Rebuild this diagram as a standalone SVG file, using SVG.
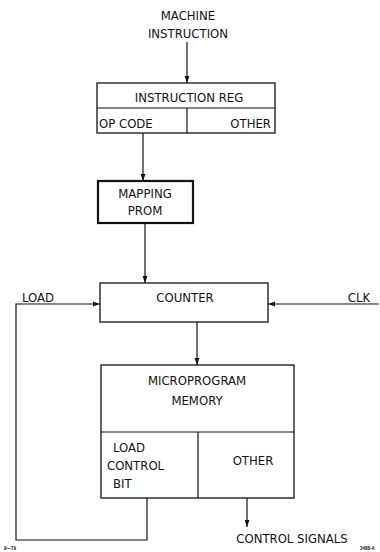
<svg xmlns="http://www.w3.org/2000/svg" width="380" height="552" viewBox="0 0 380 552">
<defs>
<marker id="ah" viewBox="0 0 10 10" refX="10" refY="5" markerWidth="7" markerHeight="8" markerUnits="userSpaceOnUse" orient="auto">
<path d="M0,1.5 L10,5 L0,8.5 z" fill="#111"/>
</marker>
<style>
.box{fill:#fff;stroke:#111;stroke-width:1.3}
.thick{stroke-width:2.2}
.ln{fill:none;stroke:#111;stroke-width:1.2}
.t{font-family:"DejaVu Sans Condensed","Liberation Sans",sans-serif;font-size:13px;fill:#111;text-anchor:middle}
.s{font-family:"Liberation Sans",sans-serif;font-size:4.5px;font-weight:bold;fill:#111}
</style>
</defs>
<rect width="380" height="552" fill="#fff"/>
<g id="connectors">
<line class="ln" x1="187" y1="42" x2="187" y2="83" marker-end="url(#ah)"/>
<line class="ln" x1="143" y1="133" x2="143" y2="181" marker-end="url(#ah)"/>
<line class="ln" x1="145" y1="223" x2="145" y2="283" marker-end="url(#ah)"/>
<polyline class="ln" points="147,498 147,540 16,540 16,304 100,304" marker-end="url(#ah)"/>
<line class="ln" x1="379" y1="304" x2="268" y2="304" marker-end="url(#ah)"/>
<line class="ln" x1="197" y1="322" x2="197" y2="365" marker-end="url(#ah)"/>
<line class="ln" x1="247" y1="498" x2="247" y2="527" marker-end="url(#ah)"/>
</g>
<g id="machine-instruction">
<text class="t" x="188" y="20">MACHINE</text>
<text class="t" x="188" y="38">INSTRUCTION</text>
</g>
<g id="instruction-reg">
<rect class="box" x="97" y="83" width="178" height="50"/>
<line class="ln" x1="97" y1="108" x2="275" y2="108"/>
<line class="ln" x1="187" y1="108" x2="187" y2="133"/>
<text class="t" x="189" y="102">INSTRUCTION REG</text>
<text class="t" x="99" y="128" style="text-anchor:start">OP CODE</text>
<text class="t" x="271" y="128" style="text-anchor:end">OTHER</text>
</g>
<g id="mapping-prom">
<rect class="box thick" x="98" y="181" width="95" height="42"/>
<text class="t" x="145" y="198">MAPPING</text>
<text class="t" x="145" y="215">PROM</text>
</g>
<g id="counter">
<rect class="box" x="100" y="283" width="168" height="39"/>
<text class="t" x="185" y="302">COUNTER</text>
</g>
<g id="load-label">
<text class="t" x="38" y="302">LOAD</text>
</g>
<g id="clk-label">
<text class="t" x="359" y="302">CLK</text>
</g>
<g id="microprogram-memory">
<rect class="box" x="101" y="365" width="193" height="133"/>
<line class="ln" x1="101" y1="432" x2="294" y2="432"/>
<line class="ln" x1="198" y1="432" x2="198" y2="498"/>
<text class="t" x="197" y="385">MICROPROGRAM</text>
<text class="t" x="197" y="405">MEMORY</text>
<text class="t" x="113" y="452" style="text-anchor:start">LOAD</text>
<text class="t" x="107" y="470" style="text-anchor:start">CONTROL</text>
<text class="t" x="113" y="488" style="text-anchor:start">BIT</text>
<text class="t" x="253" y="465">OTHER</text>
</g>
<g id="control-signals">
<text class="t" x="292" y="543">CONTROL SIGNALS</text>
</g>
<text class="s" x="4" y="550">9—79</text>
<text class="s" x="360" y="550">3488-A</text>
</svg>
